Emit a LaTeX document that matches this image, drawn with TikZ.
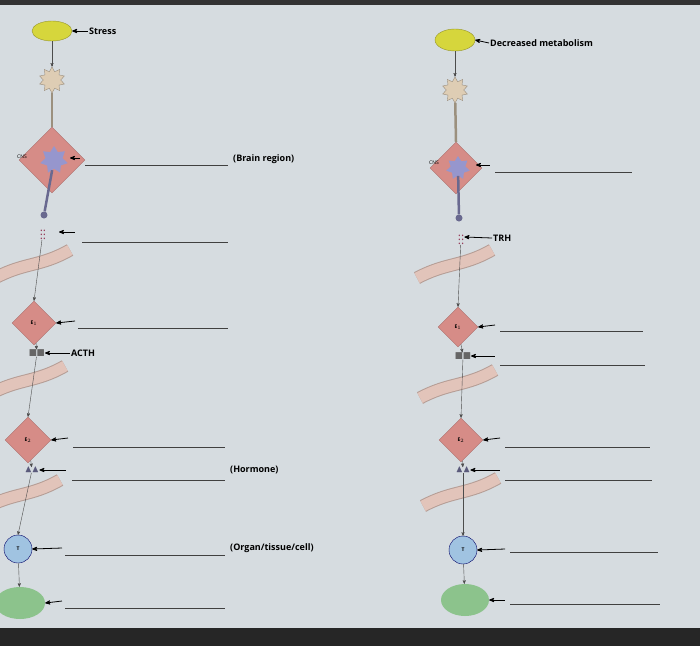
\documentclass[tikz,border=0pt]{standalone}
\usepackage{amsmath,amssymb}
\usepackage{fontspec}
\setmainfont{Open Sans}
\usetikzlibrary{shapes.geometric,shapes.misc,arrows}
\definecolor{paper}{RGB}{214,220,224}
\definecolor{yel}{RGB}{214,214,60}
\definecolor{tan}{RGB}{222,205,180}
\definecolor{rose}{RGB}{214,140,135}
\definecolor{lilac}{RGB}{150,150,205}
\definecolor{vessel}{RGB}{226,196,186}
\definecolor{dots}{RGB}{150,60,90}
\definecolor{cellblue}{RGB}{160,195,225}
\definecolor{leaf}{RGB}{140,195,140}
\tikzset{every picture/.style={x=1pt,y=-1pt}}
\tikzset{gland/.style={diamond, fill=rose, draw=rose!80!black, minimum size=#1, inner sep=0pt, font=\bfseries\tiny}}
\tikzset{pointer/.style={<-, >=stealth', thick}}
\tikzset{blank/.style={draw=black!75, thick}}
\tikzset{tag/.style={font=\bfseries\small, anchor=west, inner sep=1pt}}
\tikzset{flow/.style={->, >=stealth', thin, black!70}}
% vessel band
\newcommand{\vesselband}[2]{%
  \draw[vessel!80!black, line width=13pt] (#1-45,#2+16) .. controls (#1-15,#2) and (#1,#2+5) .. (#1+30,#2-12);
  \draw[vessel, line width=11pt] (#1-45,#2+16) .. controls (#1-15,#2) and (#1,#2+5) .. (#1+30,#2-12);}

\begin{document}
\begin{tikzpicture}
\fill[paper] (0,0) rectangle (700,646);
\fill[black!80] (0,0) rectangle (700,5);
\fill[black!85] (0,628) rectangle (700,646);
\useasboundingbox (0,0) rectangle (700,646);

% left column
\node[ellipse, fill=yel, draw=yel!70!black, minimum width=40, minimum height=20] (lstim) at (52,31) {};
\node[star, star points=10, star point ratio=1.5, fill=tan, draw=tan!70!black, minimum size=26] (lneur) at (52,80) {};
\node[gland=66] (lcns) at (52,160) {};
\node[font=\tiny, inner sep=0pt] (lcnsl) at (22,157) {CNS};
\node[star, star points=7, star point ratio=1.6, fill=lilac, minimum size=28] (lsoma) at (54,160) {};
\node[circle, fill=lilac!70!black, minimum size=7, inner sep=0] (lbulb) at (44,215) {};
\node[dots, font=\large, inner sep=0] (ldots) at (43,232) {$\vdots\vdots$};
\node[gland=44] (le1) at (34,323) {E$_1$};
\node[black!60, inner sep=0] (lsq) at (37,353) {$\blacksquare\blacksquare$};
\node[gland=46] (le2) at (28,440) {E$_2$};
\node[lilac!60!black, inner sep=0] (ltri) at (32,470) {$\blacktriangle\blacktriangle$};
\node[circle, fill=cellblue, draw=blue!40!black, minimum size=28, font=\tiny\bfseries] (lt) at (18,549) {T};
\node[ellipse, fill=leaf, minimum width=50, minimum height=32] (lcell) at (20,603) {};
\draw[flow] (lstim) -- (lneur);
\draw[tan!70!black, line width=2.5pt] (lneur) -- (lcns.north);
\draw[lilac!70!black, line width=2.5pt] (lsoma) -- (lbulb);
\vesselband{40}{262}
\vesselband{35}{378}
\vesselband{30}{492}
\draw[flow] (ldots) -- (le1.north);
\draw[flow] (le1) -- (lsq);
\draw[flow] (lsq) -- (le2.north);
\draw[flow] (le2) -- (ltri);
\draw[flow] (ltri) -- (lt.north);
\draw[flow] (lt) -- (lcell);

\node[tag] (lstress) at (88,31) {Stress};
\draw[pointer] (lstim.east) -- (lstress.west);
\coordinate (lp1) at (80,158); \draw[pointer] (70,158) -- (lp1);
\coordinate (lb1a) at (85,165); \coordinate (lb1b) at (228,165); \draw[blank] (lb1a) -- (lb1b);
\node[tag] (lbrain) at (232,159) {(Brain region)};
\draw[pointer] (59,232) -- (75,232);
\coordinate (lb2a) at (82,242); \coordinate (lb2b) at (228,242); \draw[blank] (lb2a) -- (lb2b);
\draw[pointer] (le1.east) -- (75,321);
\coordinate (lb3a) at (78,328); \coordinate (lb3b) at (228,328); \draw[blank] (lb3a) -- (lb3b);
\node[tag] (lacth) at (70,353) {ACTH};
\draw[pointer] (lsq.east) -- (lacth.west);
\draw[pointer] (le2.east) -- (68,438);
\coordinate (lb4a) at (73,447); \coordinate (lb4b) at (225,447); \draw[blank] (lb4a) -- (lb4b);
\draw[pointer] (ltri.east) -- (66,470);
\coordinate (lb5a) at (72,480); \coordinate (lb5b) at (225,480); \draw[blank] (lb5a) -- (lb5b);
\node[tag] (lhorm) at (229,470) {(Hormone)};
\draw[pointer] (lt.east) -- (62,548);
\coordinate (lb6a) at (65,555); \coordinate (lb6b) at (225,555); \draw[blank] (lb6a) -- (lb6b);
\node[tag] (lorg) at (229,548) {(Organ/tissue/cell)};
\draw[pointer] (lcell.east) -- (62,601);
\coordinate (lb7a) at (65,608); \coordinate (lb7b) at (225,608); \draw[blank] (lb7a) -- (lb7b);

% right column
\node[ellipse, fill=yel, draw=yel!70!black, minimum width=40, minimum height=22] (rstim) at (455,40) {};
\node[star, star points=10, star point ratio=1.5, fill=tan, draw=tan!70!black, minimum size=26] (rneur) at (455,90) {};
\node[gland=52] (rcns) at (456,168) {};
\node[font=\tiny, inner sep=0pt] (rcnsl) at (434,163) {CNS};
\node[star, star points=7, star point ratio=1.6, fill=lilac, minimum size=24] (rsoma) at (458,168) {};
\node[circle, fill=lilac!70!black, minimum size=7, inner sep=0] (rbulb) at (459,218) {};
\node[dots, font=\large, inner sep=0] (rdots) at (461,237) {$\vdots\vdots$};
\node[gland=40] (re1) at (458,327) {E$_1$};
\node[black!60, inner sep=0] (rsq) at (463,356) {$\blacksquare\blacksquare$};
\node[gland=44] (re2) at (461,440) {E$_2$};
\node[lilac!60!black, inner sep=0] (rtri) at (463,470) {$\blacktriangle\blacktriangle$};
\node[circle, fill=cellblue, draw=blue!40!black, minimum size=28, font=\tiny\bfseries] (rt) at (463,550) {T};
\node[ellipse, fill=leaf, minimum width=48, minimum height=32] (rcell) at (465,600) {};
\draw[flow] (rstim) -- (rneur);
\draw[tan!70!black, line width=2.5pt] (rneur) -- (rcns.north);
\draw[lilac!70!black, line width=2.5pt] (rsoma) -- (rbulb);
\vesselband{462}{262}
\vesselband{465}{382}
\vesselband{468}{490}
\draw[flow] (rdots) -- (re1.north);
\draw[flow] (re1) -- (rsq);
\draw[flow] (rsq) -- (re2.north);
\draw[flow] (re2) -- (rtri);
\draw[flow] (rtri) -- (rt.north);
\draw[flow] (rt) -- (rcell);

\node[tag] (rmeta) at (489,43) {Decreased metabolism};
\draw[pointer] (rstim.east) -- (rmeta.west);
\draw[pointer] (476,165) -- (490,165);
\coordinate (rb1a) at (495,172); \coordinate (rb1b) at (632,172); \draw[blank] (rb1a) -- (rb1b);
\node[tag] (rtrh) at (492,238) {TRH};
\draw[pointer] (rdots.east) -- (rtrh.west);
\draw[pointer] (re1.east) -- (495,325);
\coordinate (rb2a) at (500,331); \coordinate (rb2b) at (643,331); \draw[blank] (rb2a) -- (rb2b);
\draw[pointer] (rsq.east) -- (495,356);
\coordinate (rb3a) at (500,365); \coordinate (rb3b) at (645,365); \draw[blank] (rb3a) -- (rb3b);
\draw[pointer] (re2.east) -- (500,438);
\coordinate (rb4a) at (505,447); \coordinate (rb4b) at (650,447); \draw[blank] (rb4a) -- (rb4b);
\draw[pointer] (rtri.east) -- (500,470);
\coordinate (rb5a) at (505,480); \coordinate (rb5b) at (652,480); \draw[blank] (rb5a) -- (rb5b);
\draw[pointer] (rt.east) -- (505,549);
\coordinate (rb6a) at (510,552); \coordinate (rb6b) at (658,552); \draw[blank] (rb6a) -- (rb6b);
\draw[pointer] (rcell.east) -- (505,600);
\coordinate (rb7a) at (510,604); \coordinate (rb7b) at (660,604); \draw[blank] (rb7a) -- (rb7b);
\end{tikzpicture}
\end{document}
